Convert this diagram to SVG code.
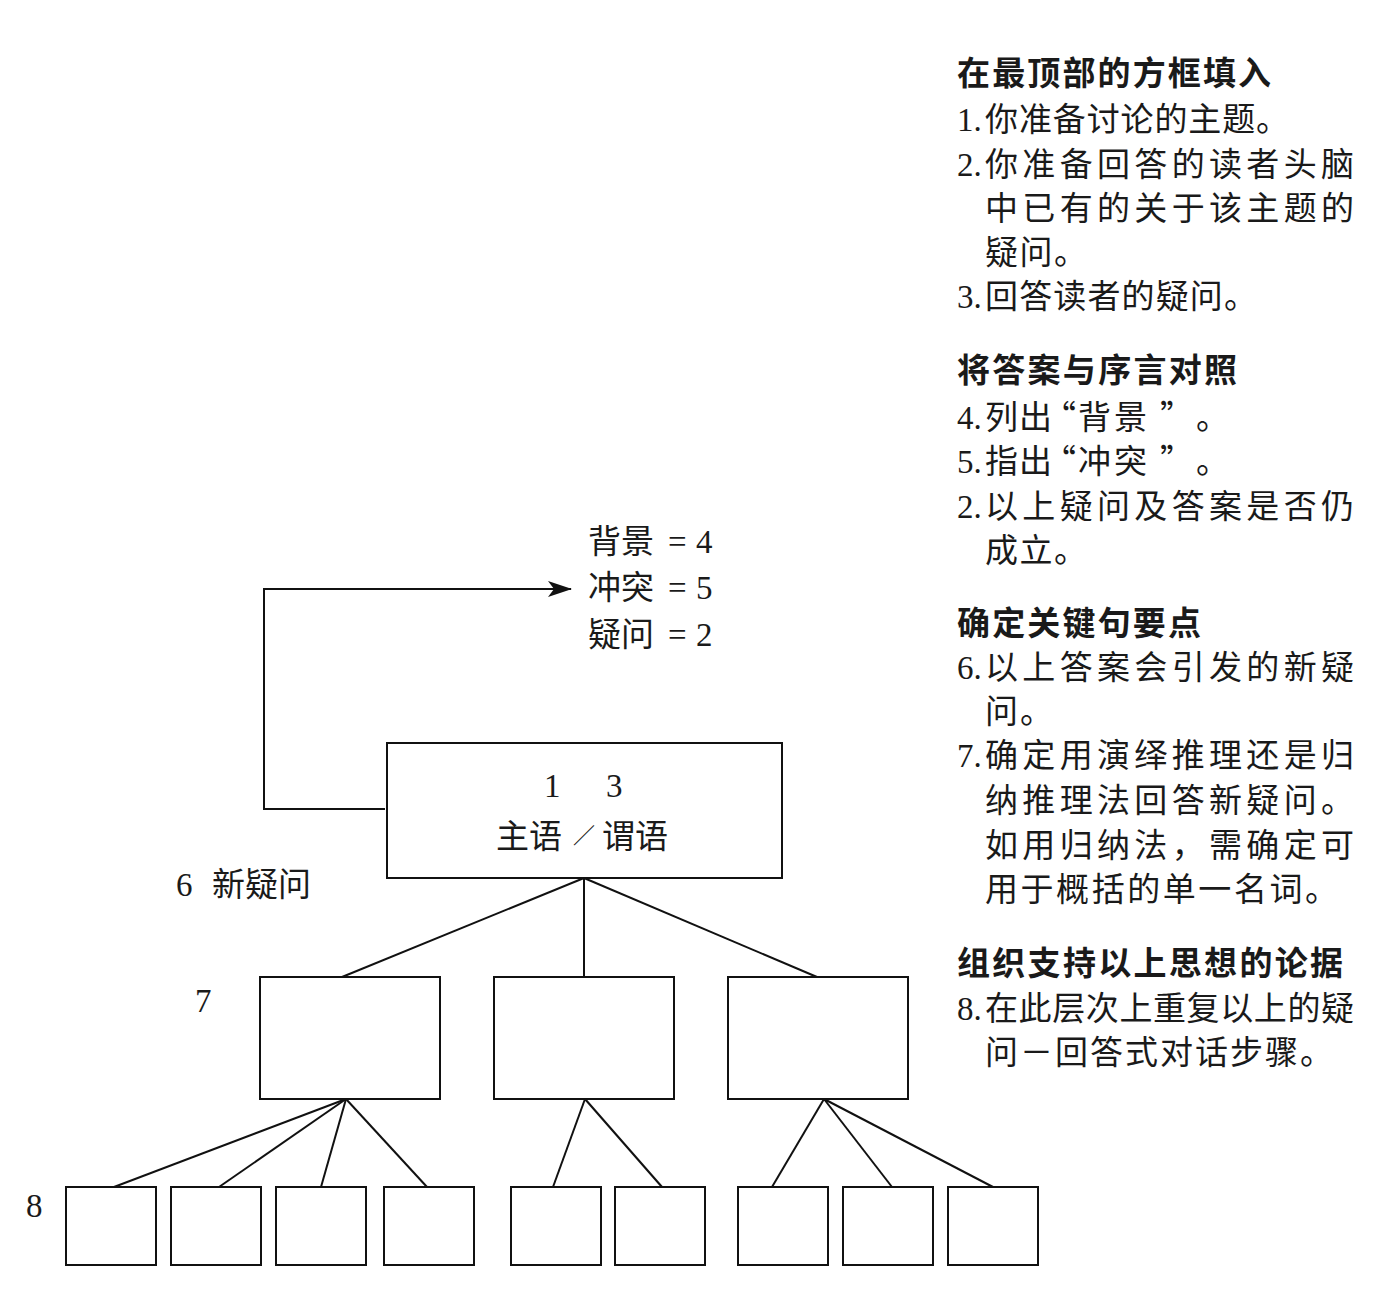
<svg xmlns="http://www.w3.org/2000/svg" width="1392" height="1310" viewBox="0 0 1392 1310">
  <style>
    .t { font-family: "Liberation Serif", "Noto Sans CJK SC", serif; font-size: 33px; fill: #1a1a1a; }
    .c { font-family: "Noto Sans CJK SC", "Liberation Serif", sans-serif; }
    .h { font-family: "Noto Sans CJK SC", sans-serif; font-weight: 700; font-size: 33px; fill: #1a1a1a; }
    .box { fill: #ffffff; stroke: #111111; stroke-width: 2; }
    .ln { stroke: #111111; stroke-width: 2; fill: none; }
  </style>
  <defs>
    <marker id="arr" markerWidth="24" markerHeight="16" refX="23" refY="8" orient="auto" markerUnits="userSpaceOnUse">
      <path d="M0,0 L24,8 L0,16 L6,8 Z" fill="#111111"/>
    </marker>
  </defs>
  <rect x="0" y="0" width="1392" height="1310" fill="#ffffff"/>

  <!-- connectors -->
  <g id="connectors">
    <polyline class="ln" points="385,809 264,809 264,589 571,589" marker-end="url(#arr)"/>
    <line class="ln" x1="584" y1="878" x2="342" y2="977"/>
    <line class="ln" x1="584" y1="878" x2="584" y2="977"/>
    <line class="ln" x1="584" y1="878" x2="817" y2="977"/>
    <line class="ln" x1="346" y1="1099" x2="114" y2="1187"/>
    <line class="ln" x1="346" y1="1099" x2="219" y2="1187"/>
    <line class="ln" x1="346" y1="1099" x2="321" y2="1187"/>
    <line class="ln" x1="346" y1="1099" x2="427" y2="1187"/>
    <line class="ln" x1="585" y1="1099" x2="553" y2="1187"/>
    <line class="ln" x1="585" y1="1099" x2="662" y2="1187"/>
    <line class="ln" x1="824" y1="1099" x2="772" y2="1187"/>
    <line class="ln" x1="824" y1="1099" x2="892" y2="1187"/>
    <line class="ln" x1="824" y1="1099" x2="993" y2="1187"/>
  </g>

  <!-- SCQ labels -->
  <g id="scq-labels">
    <text class="t" y="553" font-size="34"><tspan class="c" x="588">背景</tspan><tspan x="668">=</tspan><tspan x="696">4</tspan></text>
    <text class="t" y="599" font-size="34"><tspan class="c" x="588">冲突</tspan><tspan x="668">=</tspan><tspan x="696">5</tspan></text>
    <text class="t" y="646" font-size="34"><tspan class="c" x="588">疑问</tspan><tspan x="668">=</tspan><tspan x="696">2</tspan></text>
  </g>

  <!-- top box -->
  <g id="node-top">
    <rect class="box" x="387" y="743" width="395" height="135"/>
    <text class="t" y="797" font-size="34"><tspan x="544">1</tspan><tspan x="606">3</tspan></text>
    <text class="t" y="848" font-size="34"><tspan class="c" x="496">主语</tspan><tspan class="c" x="573" y="843" font-size="22">／</tspan><tspan class="c" x="602" y="848">谓语</tspan></text>
  </g>

  <!-- level labels -->
  <g id="level-labels">
    <text class="t" y="896" font-size="34"><tspan x="176">6</tspan><tspan class="c" x="212">新疑问</tspan></text>
    <text class="t" x="195" y="1012" font-size="34">7</text>
    <text class="t" x="26" y="1217" font-size="34">8</text>
  </g>

  <!-- middle boxes -->
  <g id="node-mid-1"><rect class="box" x="260" y="977" width="180" height="122"/></g>
  <g id="node-mid-2"><rect class="box" x="494" y="977" width="180" height="122"/></g>
  <g id="node-mid-3"><rect class="box" x="728" y="977" width="180" height="122"/></g>

  <!-- bottom boxes -->
  <g id="node-bot-1"><rect class="box" x="66" y="1187" width="90" height="78"/></g>
  <g id="node-bot-2"><rect class="box" x="171" y="1187" width="90" height="78"/></g>
  <g id="node-bot-3"><rect class="box" x="276" y="1187" width="90" height="78"/></g>
  <g id="node-bot-4"><rect class="box" x="384" y="1187" width="90" height="78"/></g>
  <g id="node-bot-5"><rect class="box" x="511" y="1187" width="90" height="78"/></g>
  <g id="node-bot-6"><rect class="box" x="615" y="1187" width="90" height="78"/></g>
  <g id="node-bot-7"><rect class="box" x="738" y="1187" width="90" height="78"/></g>
  <g id="node-bot-8"><rect class="box" x="843" y="1187" width="90" height="78"/></g>
  <g id="node-bot-9"><rect class="box" x="948" y="1187" width="90" height="78"/></g>

  <!-- right column notes -->
  <g id="notes">
    <text class="h" x="957" y="85" textLength="314" lengthAdjust="spacing">在最顶部的方框填入</text>
    <text class="t" y="131"><tspan x="957">1.</tspan><tspan class="c" x="985" textLength="304" lengthAdjust="spacing">你准备讨论的主题。</tspan></text>
    <text class="t" y="176"><tspan x="957">2.</tspan><tspan class="c" x="985" textLength="369" lengthAdjust="spacing">你准备回答的读者头脑</tspan></text>
    <text class="t c" x="985" y="220" textLength="369" lengthAdjust="spacing">中已有的关于该主题的</text>
    <text class="t c" x="985" y="264" textLength="102" lengthAdjust="spacing">疑问。</text>
    <text class="t" y="308"><tspan x="957">3.</tspan><tspan class="c" x="985" textLength="272" lengthAdjust="spacing">回答读者的疑问。</tspan></text>

    <text class="h" x="957" y="382" textLength="280" lengthAdjust="spacing">将答案与序言对照</text>
    <text class="t" y="429"><tspan x="957">4.</tspan><tspan class="c" x="985 1019 1043 1078 1114 1160 1196">列出“背景”。</tspan></text>
    <text class="t" y="473"><tspan x="957">5.</tspan><tspan class="c" x="985 1019 1043 1078 1114 1160 1196">指出“冲突”。</tspan></text>
    <text class="t" y="518"><tspan x="957">2.</tspan><tspan class="c" x="985" textLength="369" lengthAdjust="spacing">以上疑问及答案是否仍</tspan></text>
    <text class="t c" x="985" y="562" textLength="102" lengthAdjust="spacing">成立。</text>

    <text class="h" x="957" y="635" textLength="244" lengthAdjust="spacing">确定关键句要点</text>
    <text class="t" y="679"><tspan x="957">6.</tspan><tspan class="c" x="985" textLength="369" lengthAdjust="spacing">以上答案会引发的新疑</tspan></text>
    <text class="t c" x="985" y="723" textLength="68" lengthAdjust="spacing">问。</text>
    <text class="t" y="767"><tspan x="957">7.</tspan><tspan class="c" x="985" textLength="369" lengthAdjust="spacing">确定用演绎推理还是归</tspan></text>
    <text class="t c" x="985" y="812" textLength="369" lengthAdjust="spacing">纳推理法回答新疑问。</text>
    <text class="t c" x="985" y="857" textLength="369" lengthAdjust="spacing">如用归纳法，需确定可</text>
    <text class="t c" x="985" y="901" textLength="353" lengthAdjust="spacing">用于概括的单一名词。</text>

    <text class="h" x="957" y="975" textLength="386" lengthAdjust="spacing">组织支持以上思想的论据</text>
    <text class="t" y="1020"><tspan x="957">8.</tspan><tspan class="c" x="985" textLength="369" lengthAdjust="spacing">在此层次上重复以上的疑</tspan></text>
    <text class="t c" x="985" y="1064" textLength="348" lengthAdjust="spacing">问－回答式对话步骤。</text>
  </g>
</svg>
